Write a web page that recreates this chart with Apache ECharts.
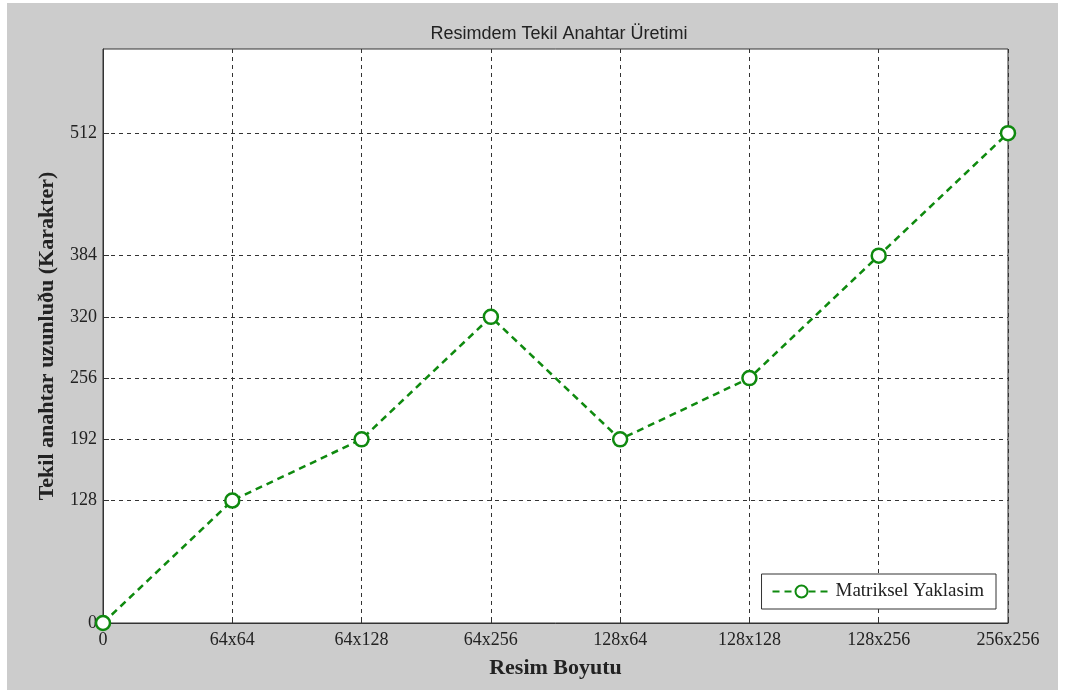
<!DOCTYPE html>
<html><head><meta charset="utf-8">
<script src="https://cdn.jsdelivr.net/npm/echarts@6/dist/echarts.min.js"></script>
<style>html,body{margin:0;padding:0;background:#fff}#c{width:1068px;height:690px}</style>
</head><body><div id="c"></div>
<script>
const categories = ['0','64x64','64x128','64x256','128x64','128x128','128x256','256x256'];
const values = [0, 128, 192, 320, 192, 256, 384, 512];
const yTicks = [0, 128, 192, 256, 320, 384, 512];
const seriesName = 'Matriksel Yaklasim';

const chart = echarts.init(document.getElementById('c'));
const green = '#0f8a0f';
const serif = '"Liberation Serif", "Times New Roman", serif';
chart.setOption({
  backgroundColor: '#fff',
  graphic: [{type:'rect', shape:{x:7,y:3,width:1051,height:690}, style:{fill:'#cccccc'}, z:-10, silent:true}],
  title: {text:'Resimdem Tekil Anahtar Üretimi', left:554, top:20, textAlign:'center',
    textStyle:{fontFamily:'"Liberation Sans", Arial, sans-serif', fontSize:18, fontWeight:'normal', color:'#222'}},
  grid: {left:103, top:49, right:60, bottom:67, show:true, backgroundColor:'#fff', borderColor:'#333', borderWidth:1,
    containLabel:false, outerBoundsMode:'none'},
  legend: {data:[{name:seriesName}], right:72, top:574, orient:'horizontal', backgroundColor:'#fff',
    borderColor:'#333', borderWidth:1, padding:[8,12,8,10], itemWidth:58, itemHeight:15, itemGap:8,
    textStyle:{fontFamily:serif, fontSize:19, color:'#222'}},
  xAxis: {type:'category', data:categories, boundaryGap:false,
    name:'Resim Boyutu', nameLocation:'middle', nameGap:34,
    nameTextStyle:{fontFamily:serif, fontSize:22, fontWeight:'bold', color:'#222'},
    axisLine:{lineStyle:{color:'#333'}}, axisTick:{inside:true, length:6, lineStyle:{color:'#333'}},
    axisLabel:{fontFamily:serif, fontSize:18, color:'#222', margin:8},
    splitLine:{show:true, lineStyle:{color:'#333', type:[4,4], width:1}}},
  yAxis: {type:'value', min:0, max:600,
    name:'Tekil anahtar uzunluðu (Karakter)', nameLocation:'middle', nameGap:45,
    nameTextStyle:{fontFamily:serif, fontSize:22, fontWeight:'bold', color:'#222'},
    axisLine:{show:true, lineStyle:{color:'#333'}},
    axisTick:{show:true, inside:true, length:6, customValues:yTicks, lineStyle:{color:'#333'}},
    axisLabel:{fontFamily:serif, fontSize:18, color:'#222', margin:6, customValues:yTicks},
    splitLine:{show:true, lineStyle:{color:'#333', type:[4,4], width:1}}},
  series: [{name:seriesName, type:'line', data:values, symbol:'circle', symbolSize:14,
    lineStyle:{color:green, width:2.5, type:[7,5]},
    itemStyle:{color:'#fff', borderColor:green, borderWidth:2.5},
    z:5}]
});
</script></body></html>
